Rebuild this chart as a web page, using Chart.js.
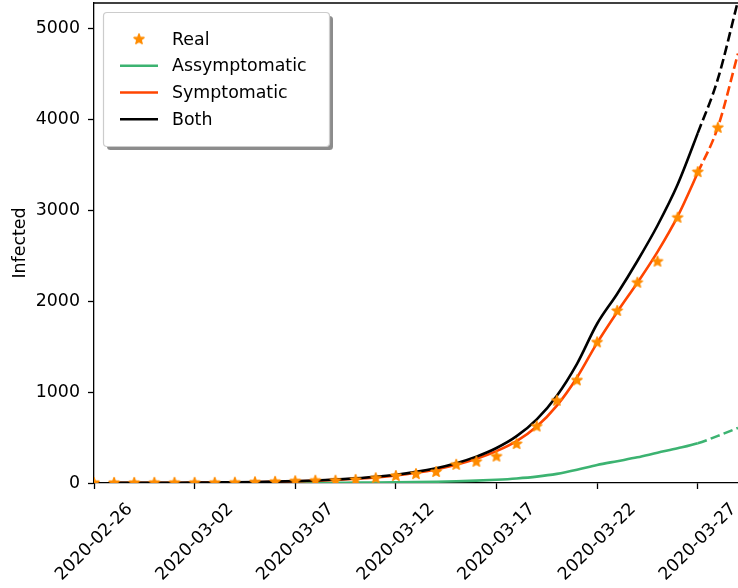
<!DOCTYPE html>
<html>
<head>
<meta charset="utf-8">
<script src="https://cdn.jsdelivr.net/npm/chart.js@4/dist/chart.umd.min.js"></script>
<style>
    body { margin: 0; background: #fff; }
    #caixa { width: 738px; height: 588px; }
</style>
</head>
<body>
<div id="caixa"><canvas id="myChart"></canvas></div>
<script>
const grafico = document.querySelector("#myChart")

// dias (indice 0 = 2020-02-26)
const dias = ["2020-02-26", "2020-02-27", "2020-02-28", "2020-02-29", "2020-03-01", "2020-03-02", "2020-03-03",
    "2020-03-04", "2020-03-05", "2020-03-06", "2020-03-07", "2020-03-08", "2020-03-09", "2020-03-10",
    "2020-03-11", "2020-03-12", "2020-03-13", "2020-03-14", "2020-03-15", "2020-03-16", "2020-03-17",
    "2020-03-18", "2020-03-19", "2020-03-20", "2020-03-21", "2020-03-22", "2020-03-23", "2020-03-24",
    "2020-03-25", "2020-03-26", "2020-03-27", "2020-03-28", "2020-03-29"]

// casos reais
const reais = [1, 1, 1, 2, 2, 2, 2, 3, 8, 13, 19, 25, 25, 34, 52, 77, 98, 121, 200, 234, 291, 428, 621, 904,
    1128, 1546, 1891, 2201, 2433, 2915, 3417, 3904]

// modelo
const assintomaticos = [null, 0, 0, 0, 0, 0, 1, 1, 1, 1, 2, 2, 3, 4, 5, 7, 10, 14, 19, 26, 36, 50, 70, 100,
    145, 198, 240, 282, 333, 381, 436, 518, 605]
const sintomaticos = [null, 1, 1, 2, 3, 4, 5, 7, 10, 13, 18, 25, 34, 46, 62, 83, 112, 150, 200, 265, 350, 460, 620, 850,
    1160, 1540, 1880, 2200, 2540, 2930, 3410, 3910, 4720]
const ambos = [null, 1, 1, 2, 3, 4, 6, 8, 11, 15, 21, 28, 38, 51, 68, 91, 122, 163, 218, 290, 385, 515, 700, 960,
    1310, 1750, 2080, 2440, 2830, 3280, 3845, 4440, 5300]

// ticks
const ticksX = [0, 5, 10, 15, 20, 25, 30]
const ticksY = [0, 1000, 2000, 3000, 4000, 5000]
const ultimoDiaReal = 30

const fonte = { family: "DejaVu Sans", size: 17.4 }

//estrela preenchida tipo matplotlib
const estrela = (function () {
    const c = document.createElement("canvas")
    c.width = 14
    c.height = 14
    const g = c.getContext("2d")
    g.beginPath()
    for (let k = 0; k < 10; k++) {
        const r = k % 2 === 0 ? 5.2 : 2.0
        const a = -Math.PI / 2 + k * Math.PI / 5
        const px = 7 + r * Math.cos(a), py = 7 + r * Math.sin(a)
        if (k === 0) g.moveTo(px, py); else g.lineTo(px, py)
    }
    g.closePath()
    g.fillStyle = "#ff8c00"
    g.strokeStyle = "#ff8c00"
    g.lineWidth = 1.6
    g.lineJoin = "round"
    g.fill()
    g.stroke()
    return c
})()

const pontos = arr => arr.map((v, i) => ({ x: i, y: v }))

const tracejado = {
    borderDash: ctx => ctx.p0.parsed.x >= ultimoDiaReal ? [9.6, 4.2] : undefined
}

//legenda e borda de cima
const extras = {
    id: "extras",
    afterDraw(chart) {
        const ctx = chart.ctx
        const area = chart.chartArea
        ctx.save()
        ctx.strokeStyle = "#000"
        ctx.lineWidth = 1.3
        ctx.beginPath()
        ctx.moveTo(area.left, area.top)
        ctx.lineTo(area.right, area.top)
        ctx.stroke()

        // caixa
        ctx.fillStyle = "rgba(0,0,0,0.45)"
        ctx.beginPath()
        ctx.roundRect(107, 16, 226, 134, 3.5)
        ctx.fill()
        ctx.fillStyle = "#fff"
        ctx.strokeStyle = "#cccccc"
        ctx.lineWidth = 1.2
        ctx.beginPath()
        ctx.roundRect(103.5, 12.5, 226, 134, 3.5)
        ctx.fill()
        ctx.stroke()

        const linhasY = [39.3, 65.8, 92.5, 119.3]
        ctx.font = fonte.size + "px " + fonte.family
        ctx.textBaseline = "middle"
        ctx.fillStyle = "#000"
        chart.data.datasets.forEach((ds, i) => {
            const y = linhasY[i]
            if (ds.showLine === false) {
                ctx.drawImage(estrela, 139 - 7, y - 7)
            } else {
                ctx.strokeStyle = ds.borderColor
                ctx.lineWidth = 2.6
                ctx.beginPath()
                ctx.moveTo(120, y)
                ctx.lineTo(158, y)
                ctx.stroke()
            }
            ctx.fillStyle = "#000"
            ctx.fillText(ds.label, 172, y + 1)
        })
        ctx.restore()
    }
}

const linha = (label, dados, cor, ordem) => ({
    label: label,
    data: pontos(dados),
    borderColor: cor,
    borderWidth: 2.6,
    pointRadius: 0,
    cubicInterpolationMode: "monotone",
    segment: tracejado,
    order: ordem
})

new Chart(grafico, {
    type: "line",
    data: {
        datasets: [{
            label: "Real",
            data: pontos(reais),
            showLine: false,
            pointStyle: estrela,
            pointRadius: 6,
            borderColor: "#ff8c00",
            backgroundColor: "#ff8c00",
            order: 0
        },
        linha("Assymptomatic", assintomaticos, "#3cb371", 3),
        linha("Symptomatic", sintomaticos, "#ff4500", 2),
        linha("Both", ambos, "#000000", 1)]
    },
    options: {
        responsive: true,
        maintainAspectRatio: false,
        animation: false,
        layout: { autoPadding: false, padding: { top: 3, right: 0, left: 0, bottom: 0 } },
        plugins: {
            legend: { display: false },
            tooltip: { enabled: false }
        },
        scales: {
            x: {
                type: "linear",
                min: 0,
                max: 32,
                afterBuildTicks: s => { s.ticks = ticksX.map(v => ({ value: v })) },
                afterFit: s => { s.height = 105; s.paddingLeft = 0; s.paddingRight = 0 },
                ticks: {
                    callback: v => dias[v],
                    autoSkip: false,
                    minRotation: 45,
                    maxRotation: 45,
                    labelOffset: 36,
                    padding: 10,
                    color: "#000",
                    font: fonte
                },
                grid: { drawOnChartArea: false, tickLength: 6, color: "#000", tickWidth: 1.3 },
                border: { display: true, color: "#000", width: 1.3 }
            },
            y: {
                min: 0,
                max: 5275,
                afterBuildTicks: s => { s.ticks = ticksY.map(v => ({ value: v })) },
                afterFit: s => { s.width = 94; s.paddingTop = 0; s.paddingBottom = 0 },
                ticks: { callback: v => String(v), padding: 8, color: "#000", font: fonte },
                grid: { drawOnChartArea: false, tickLength: 6, color: "#000", tickWidth: 1.3 },
                border: { display: true, color: "#000", width: 1.3 },
                title: { display: true, text: "Infected", color: "#000", font: fonte, padding: { top: 10, bottom: 0 } }
            }
        }
    },
    plugins: [extras]
});
</script>
</body>
</html>
